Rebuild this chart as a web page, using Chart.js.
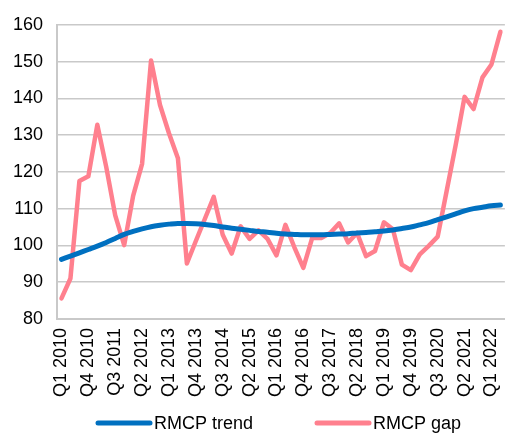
<!DOCTYPE html>
<html>
<head>
<meta charset="utf-8">
<script src="https://cdn.jsdelivr.net/npm/chart.js@4/dist/chart.umd.min.js"></script>
<style>
  html, body { margin: 0; padding: 0; background: #fff; overflow: hidden; }
  #wrap { position: relative; width: 531px; height: 436px; }
</style>
</head>
<body>
<div id="wrap"><canvas id="c"></canvas></div>
<script>
// Quarterly categories, Q1 2010 to Q2 2022
const quarters = [
  'Q1 2010','Q2 2010','Q3 2010','Q4 2010',
  'Q1 2011','Q2 2011','Q3 2011','Q4 2011',
  'Q1 2012','Q2 2012','Q3 2012','Q4 2012',
  'Q1 2013','Q2 2013','Q3 2013','Q4 2013',
  'Q1 2014','Q2 2014','Q3 2014','Q4 2014',
  'Q1 2015','Q2 2015','Q3 2015','Q4 2015',
  'Q1 2016','Q2 2016','Q3 2016','Q4 2016',
  'Q1 2017','Q2 2017','Q3 2017','Q4 2017',
  'Q1 2018','Q2 2018','Q3 2018','Q4 2018',
  'Q1 2019','Q2 2019','Q3 2019','Q4 2019',
  'Q1 2020','Q2 2020','Q3 2020','Q4 2020',
  'Q1 2021','Q2 2021','Q3 2021','Q4 2021',
  'Q1 2022','Q2 2022'
];

// RMCP trend
const rmcpTrend = [
  96.2, 97.1, 98.0, 98.9, 99.8, 100.8, 101.9, 103.0, 103.8, 104.5,
  105.1, 105.5, 105.8, 106.0, 106.0, 105.9, 105.7, 105.4, 105.0, 104.7,
  104.4, 104.1, 103.8, 103.6, 103.3, 103.1, 103.0, 102.9, 102.9, 102.9,
  103.0, 103.1, 103.2, 103.4, 103.5, 103.7, 103.9, 104.2, 104.6, 105.0,
  105.6, 106.2, 107.0, 107.8, 108.6, 109.4, 110.0, 110.4, 110.8, 111.0
];

// RMCP gap
const rmcpGap = [
  85.6, 91.0, 117.5, 118.8, 132.8, 121.3, 108.2, 100.1, 113.5, 122.2,
  150.3, 138.2, 130.5, 123.7, 95.1, 101.2, 107.2, 113.2, 102.9, 97.8,
  105.2, 101.8, 104.1, 101.8, 97.3, 105.6, 99.5, 93.9, 102.1, 102.0,
  103.4, 106.0, 100.8, 103.4, 97.1, 98.5, 106.3, 104.4, 94.8, 93.3,
  97.6, 99.9, 102.4, 114.8, 127.2, 140.4, 137.1, 145.7, 149.2, 158.1
];

// y-axis range and step
const yMin = 80, yMax = 160, yStep = 10;

const BLUE = '#0070C0';
const PINK = '#FF808E';
const GRID = '#c9c9c9';
const FONT = { family: 'Liberation Sans, Arial, sans-serif', size: 18 };

// Legend drawn under the axis labels: a thick line sample followed by the name
const bottomKey = {
  id: 'bottomKey',
  afterDraw(chart) {
    const ctx = chart.ctx;
    const y = 423;
    const starts = [98, 317];
    ctx.save();
    ctx.font = `${FONT.size}px ${FONT.family}`;
    ctx.textBaseline = 'middle';
    ctx.textAlign = 'left';
    chart.data.datasets.forEach((ds, i) => {
      const x = starts[i];
      ctx.strokeStyle = ds.borderColor;
      ctx.lineWidth = 5;
      ctx.lineCap = 'round';
      ctx.beginPath();
      ctx.moveTo(x, y);
      ctx.lineTo(x + 52, y);
      ctx.stroke();
      ctx.fillStyle = '#000';
      ctx.fillText(ds.label, x + 56, y + 1);
    });
    ctx.restore();
  }
};

new Chart(document.getElementById('c'), {
  type: 'line',
  data: {
    labels: quarters,
    datasets: [
      {
        label: 'RMCP trend',
        data: rmcpTrend,
        borderColor: BLUE,
        backgroundColor: BLUE,
        borderWidth: 5,
        pointRadius: 0,
        tension: 0.4,
        cubicInterpolationMode: 'monotone',
        borderCapStyle: 'round',
        borderJoinStyle: 'round'
      },
      {
        label: 'RMCP gap',
        data: rmcpGap,
        borderColor: PINK,
        backgroundColor: PINK,
        borderWidth: 4.5,
        pointRadius: 0,
        tension: 0,
        borderCapStyle: 'round',
        borderJoinStyle: 'round'
      }
    ]
  },
  options: {
    responsive: true,
    maintainAspectRatio: false,
    animation: false,
    events: [],
    layout: { padding: { left: 0, right: 0, top: 16, bottom: 39 } },
    plugins: {
      legend: { display: false },
      tooltip: { enabled: false }
    },
    scales: {
      x: {
        type: 'category',
        offset: true,
        grid: { display: false, drawTicks: false },
        border: { display: true, color: GRID, width: 2 },
        afterFit(scale) { scale.height = 78; },
        ticks: {
          autoSkip: false,
          maxRotation: 90,
          minRotation: 90,
          padding: 9,
          color: '#000',
          font: FONT,
          callback(value, index) {
            return index % 3 === 0 ? quarters[index] : '';
          }
        }
      },
      y: {
        min: yMin,
        max: yMax,
        grid: { color: GRID, lineWidth: 1.5, drawTicks: false },
        border: { display: true, color: GRID, width: 2 },
        afterFit(scale) { scale.width = 57; },
        ticks: {
          stepSize: yStep,
          padding: 14,
          color: '#000',
          font: FONT
        }
      }
    }
  },
  plugins: [bottomKey]
});
</script>
</body>
</html>
